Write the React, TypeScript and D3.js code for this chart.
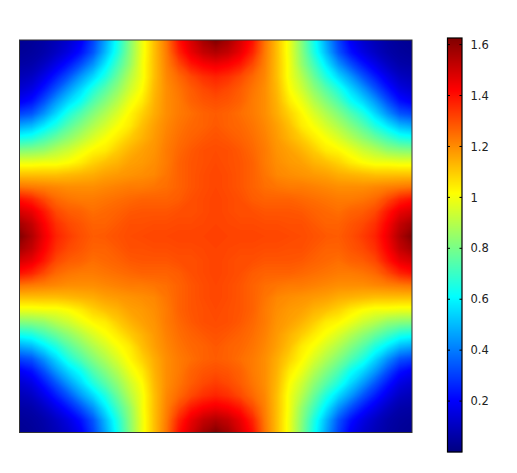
import * as d3 from "d3";

// values read off one quadrant of the map, corner -> centre. The map is mirrored both ways
// and about its diagonal, so only the upper triangle of the quadrant is listed.
const quadrant = [
  [0.03, 0.04, 0.06, 0.09, 0.13, 0.19, 0.31, 0.47, 0.64, 0.82, 0.99, 1.12, 1.24, 1.4, 1.49, 1.57, 1.625],
  [0.05, 0.07, 0.11, 0.16, 0.23, 0.34, 0.5, 0.66, 0.83, 0.99, 1.12, 1.23, 1.37, 1.46, 1.52, 1.55],
  [0.11, 0.17, 0.24, 0.33, 0.44, 0.58, 0.72, 0.85, 1.0, 1.12, 1.22, 1.31, 1.39, 1.43, 1.45],
  [0.25, 0.34, 0.45, 0.55, 0.66, 0.78, 0.9, 1.0, 1.12, 1.21, 1.26, 1.31, 1.35, 1.37],
  [0.45, 0.55, 0.66, 0.75, 0.84, 0.94, 1.02, 1.13, 1.2, 1.24, 1.28, 1.31, 1.33],
  [0.63, 0.74, 0.82, 0.9, 0.99, 1.05, 1.14, 1.2, 1.23, 1.27, 1.29, 1.3],
  [0.82, 0.89, 0.96, 1.03, 1.09, 1.15, 1.2, 1.23, 1.25, 1.27, 1.28],
  [0.95, 1.01, 1.05, 1.12, 1.17, 1.21, 1.24, 1.26, 1.27, 1.285],
  [1.05, 1.1, 1.14, 1.18, 1.22, 1.25, 1.27, 1.285, 1.295],
  [1.14, 1.17, 1.19, 1.23, 1.26, 1.285, 1.3, 1.305],
  [1.18, 1.2, 1.23, 1.27, 1.29, 1.3, 1.31],
  [1.21, 1.24, 1.27, 1.29, 1.305, 1.315],
  [1.25, 1.27, 1.29, 1.305, 1.315],
  [1.28, 1.3, 1.31, 1.32],
  [1.3, 1.31, 1.32],
  [1.315, 1.32],
  [1.325],
];

const colorTicks = [0.2, 0.4, 0.6, 0.8, 1, 1.2, 1.4, 1.6];
const minValue = 0;
const maxValue = 1.626;

const jetStops = ["#000080", "#0000ff", "#00ffff", "#80ff80", "#ffff00", "#ff0000", "#800000"];
const jetPositions = [0, 0.125, 0.375, 0.5, 0.625, 0.875, 1];

const width = 517;
const height = 473;
const plot = { left: 19.5, right: 412, top: 40, bottom: 432.5 };
const bar = { left: 447.5, right: 462, top: 38, bottom: 452 };

export default function App() {
  const color = d3
    .scaleLinear<string>()
    .domain(jetPositions.map((p) => minValue + p * (maxValue - minValue)))
    .range(jetStops)
    .interpolate(d3.interpolateRgb);

  // unfold the triangle into the full grid
  const n = quadrant.length;
  const size = 2 * n - 1;
  const fold = (i: number) => (i < n ? i : size - 1 - i);
  const cell = (a: number, b: number) => quadrant[Math.min(a, b)][Math.abs(a - b)];
  const grid: number[] = [];
  for (let j = 0; j < size; j++) {
    for (let i = 0; i < size; i++) grid.push(cell(fold(j), fold(i)));
  }

  const thresholds = d3.range(minValue, maxValue, 0.005);
  const bands = d3.contours().size([size, size]).thresholds(thresholds)(grid);

  const x = d3.scaleLinear().domain([0.5, size - 0.5]).range([plot.left, plot.right]);
  const y = d3.scaleLinear().domain([0.5, size - 0.5]).range([plot.top, plot.bottom]);
  const path = d3.geoPath(
    d3.geoTransform({
      point(px, py) {
        this.stream.point(x(px), y(py));
      },
    })
  );

  const barY = d3.scaleLinear().domain([minValue, maxValue]).range([bar.bottom, bar.top]);
  const barSteps = d3.range(bar.top, bar.bottom, 1);

  return (
    <svg
      width={width}
      height={height}
      style={{ position: "absolute", left: 0, top: 0, display: "block", background: "#fff" }}
    >
      <defs>
        <clipPath id="plot-clip">
          <rect x={plot.left} y={plot.top} width={plot.right - plot.left} height={plot.bottom - plot.top} />
        </clipPath>
      </defs>
      <g clipPath="url(#plot-clip)">
        <rect x={plot.left} y={plot.top} width={plot.right - plot.left} height={plot.bottom - plot.top} fill={color(minValue)} />
        {bands.map((b, i) => (
          <path key={i} d={path(b) ?? ""} fill={color(b.value)} />
        ))}
      </g>
      <rect
        x={plot.left}
        y={plot.top}
        width={plot.right - plot.left}
        height={plot.bottom - plot.top}
        fill="none"
        stroke="#333"
        strokeWidth={1}
      />

      {/* colour bar */}
      {barSteps.map((py) => (
        <rect key={py} x={bar.left} y={py} width={bar.right - bar.left} height={1.2} fill={color(barY.invert(py + 0.5))} />
      ))}
      <rect
        x={bar.left}
        y={bar.top}
        width={bar.right - bar.left}
        height={bar.bottom - bar.top}
        fill="none"
        stroke="#000"
        strokeWidth={1.2}
      />
      {colorTicks.map((t) => (
        <g key={t} transform={`translate(0,${barY(t)})`}>
          <line x1={bar.left} x2={bar.left + 2.5} stroke="#000" />
          <line x1={bar.right - 2.5} x2={bar.right} stroke="#000" />
          <text x={470.5} dy="0.36em" fontFamily="DejaVu Sans" fontSize={11.5} fill="#222">
            {d3.format("~g")(t)}
          </text>
        </g>
      ))}
    </svg>
  );
}
